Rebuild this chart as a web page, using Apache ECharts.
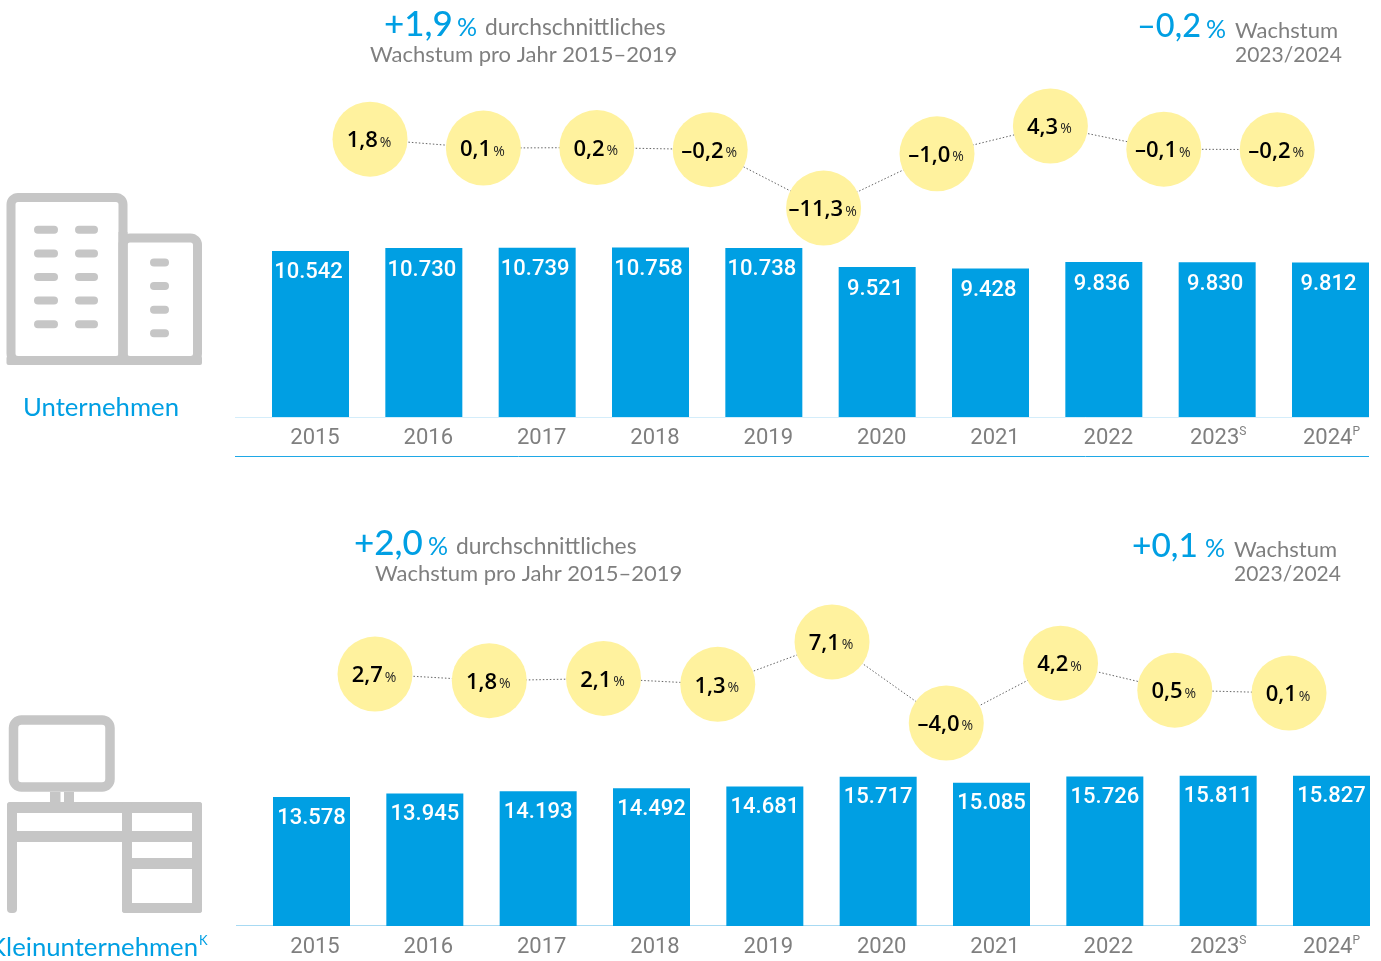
<!DOCTYPE html>
<html><head><meta charset="utf-8">
<style>html,body{margin:0;padding:0;background:#fff;overflow:hidden}#c{width:1381px;height:961px}</style>
<script src="https://cdn.jsdelivr.net/npm/echarts@6/dist/echarts.min.js"></script>
</head><body><div id="c"></div>
<script>
const years = ['2015','2016','2017','2018','2019','2020','2021','2022','2023S','2024P'];
const growthYears = ['2016','2017','2018','2019','2020','2021','2022','2023','2024'];
const unternehmen = [10542,10730,10739,10758,10738,9521,9428,9836,9830,9812];
const kleinunternehmen = [13578,13945,14193,14492,14681,15717,15085,15726,15811,15827];
const growthUnternehmen = [1.8,0.1,0.2,-0.2,-11.3,-1.0,4.3,-0.1,-0.2];
const growthKlein = [2.7,1.8,2.1,1.3,7.1,-4.0,4.2,0.5,0.1];

const BLUE='#009fe3', GREY='#7f7f7f', ICON='#c6c6c6', YEL='#fff29e';
const FONT='Lato';
const chart = echarts.init(document.getElementById('c'),null,{renderer:'canvas'});
const de = n => n.toLocaleString('de-DE');
const pct = v => (v<0?'–':'')+Math.abs(v).toFixed(1).replace('.',',');

function yearAxis(gridIndex,pad){return {type:'category',gridIndex,data:years,boundaryGap:false,axisLine:{show:false},axisTick:{show:false},
  axisLabel:{interval:0,margin:9,padding:[0,0,0,pad],fontFamily:'Roboto',fontSize:22,color:GREY,showMinLabel:true,showMaxLabel:true,hideOverlap:false,
    formatter:v=>{const m=v.match(/^(\d+)([A-Z])$/);return m?`{y|${m[1]}}{s|${m[2]}}`:`{y|${v}}`;},
    rich:{y:{fontFamily:'Roboto',fontSize:22,color:GREY,lineHeight:24},s:{fontFamily:'Roboto',fontSize:12,color:GREY,verticalAlign:'top',lineHeight:14,padding:[0,7,0,0]}}}};}
const growthAxis=g=>({type:'category',gridIndex:g,data:growthYears,show:false});
const barSeries=(i,data,off)=>({type:'bar',xAxisIndex:i,yAxisIndex:i,data,barWidth:77,clip:false,itemStyle:{color:BLUE},silent:true,
  label:{show:true,position:'insideTop',distance:10,offset:off,color:'#fff',fontFamily:'Roboto',fontWeight:500,fontSize:22,formatter:p=>de(p.value)}});
const lineSeries=(i,data)=>({type:'line',xAxisIndex:i,yAxisIndex:i,data,symbol:'circle',symbolSize:75,showSymbol:true,clip:false,
  itemStyle:{color:YEL},lineStyle:{type:[1.5,2],width:1,color:'#666'},z:5,silent:true,
  label:{show:true,position:'inside',offset:[-1,2],formatter:p=>`{v|${pct(p.value)}}{p|%}`,
    rich:{v:{fontFamily:'"Open Sans"',fontSize:22,fontWeight:600,color:'#000'},p:{fontFamily:'"Open Sans"',fontSize:14,color:'#222',padding:[3,0,0,2]}}}});

function rr(x,y,w,h,r){return {type:'rect',shape:{x,y,width:w,height:h,r:r||0},style:{fill:ICON},silent:true};}
function box(x,y,w,h,lw,r){return {type:'rect',shape:{x,y,width:w,height:h,r},style:{fill:'none',stroke:ICON,lineWidth:lw},silent:true};}
function txt(x,y,text,size,color,extra){const {weight,align}=extra||{};return {type:'text',x,y,silent:true,style:{text,fontFamily:FONT,fontSize:size,fontWeight:weight||'normal',fill:color,align:align||'left',verticalAlign:'middle'}};}
function ln(x1,x2,y,color){return {type:'line',shape:{x1,y1:y,x2,y2:y},style:{stroke:color,lineWidth:1},silent:true};}

const building=[box(11,197.5,112,163,9,7),box(123,238,74.5,122.5,9,7),rr(118.5,232,9,133),rr(6.5,356,195.5,9,2)];
[229.7,253.4,277,300.6,324.2].forEach(y=>{building.push(rr(34,y-4,24,8,4),rr(75,y-4,23,8,4));});
[262.5,286,309.7,333.3].forEach(y=>building.push(rr(150,y-4,19,8,4)));
const desk=[box(13.5,720,96.5,67,9.5,8),rr(50,792,10.5,11),rr(64,792,10,11),
  rr(7,802,195,11,3),rr(7,831,195,11),rr(7,802,10,111,4),rr(122,802,10,111,3),rr(192,802,10,111,3),
  rr(132,858,60,11),rr(122,903,80,10,3)];

const big={weight:500};
const texts=[
 txt(384,25,'+1,9',35,BLUE,big),txt(457,28,'%',25,BLUE),txt(485,28,'durchschnittliches',22.8,GREY),
 txt(370,55,'Wachstum pro Jahr 2015–2019',22,GREY),
 txt(1137,27,'–0,2',32.5,BLUE,big),txt(1206,30,'%',25,BLUE),txt(1235,31,'Wachstum',22,GREY),txt(1235,55,'2023/2024',21,GREY),
 txt(354,544,'+2,0',35,BLUE,big),txt(428,547,'%',25,BLUE),txt(456,547,'durchschnittliches',22.8,GREY),
 txt(375,574,'Wachstum pro Jahr 2015–2019',22,GREY),
 txt(1132,546,'+0,1',33.5,BLUE,big),txt(1205,549,'%',25,BLUE),txt(1234,550,'Wachstum',22,GREY),txt(1234,574,'2023/2024',21,GREY),
 txt(23,408,'Unternehmen',25.7,BLUE),
 txt(198,948,'Kleinunternehmen',25.7,BLUE,{align:'right'}),txt(199,941,'K',13,BLUE)
];

chart.setOption({
 animation:false,backgroundColor:'#fff',
 grid:[
  {left:310.5,top:228,width:1020,height:189},
  {left:313.3,top:96,width:1020.6,height:131.5},
  {left:311.5,top:736,width:1020,height:190},
  {left:317.9,top:620.8,width:1028.25,height:146}],
 xAxis:[yearAxis(0,9),growthAxis(1),yearAxis(2,7),growthAxis(3)],
 yAxis:[
  {type:'value',gridIndex:0,min:0,max:12000,show:false},
  {type:'value',gridIndex:1,min:-15,max:10,show:false},
  {type:'value',gridIndex:2,min:0,max:20000,show:false},
  {type:'value',gridIndex:3,min:-10,max:10,show:false}],
 series:[barSeries(0,unternehmen,[-2,1]),lineSeries(1,growthUnternehmen),barSeries(2,kleinunternehmen,[0,0]),lineSeries(3,growthKlein)],
 graphic:{elements:[...building,...desk,...texts,
   ln(235,1369,417.5,'#d4edfa'),ln(235,1369,456.5,'#1fa8e6'),ln(236,1370,925.5,'#a8daf3')]}
});
</script></body></html>
